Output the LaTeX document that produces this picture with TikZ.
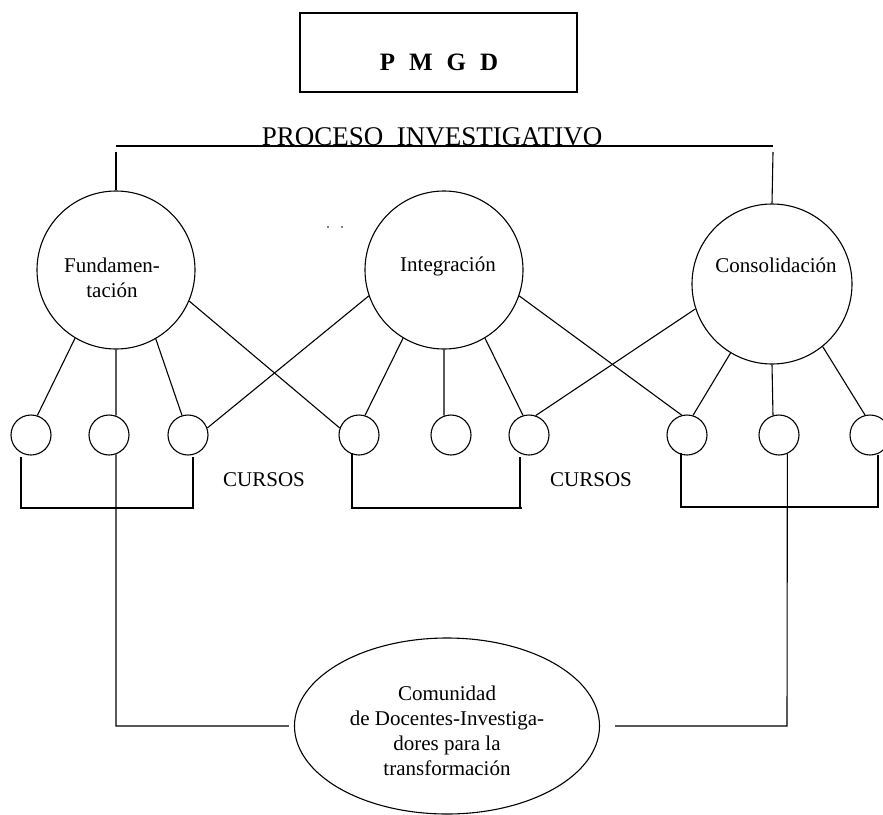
\documentclass[tikz,border=0pt]{standalone}
\usepackage{fontspec}
\setmainfont{Liberation Serif}
\usetikzlibrary{shapes.geometric}
\begin{document}
\begin{tikzpicture}[x=1pt,y=-1pt, line width=1.1pt,
  big/.style={draw, circle, minimum size=158pt, inner sep=0pt},
  small/.style={draw, circle, minimum size=40pt, inner sep=0pt},
  lbl/.style={font=\fontsize{21}{25}\selectfont, align=center, inner sep=0pt}]
\useasboundingbox (0,0) rectangle (883,814);

% title box
\node[draw, minimum width=277pt, minimum height=79pt, inner sep=0pt] (box) at (438.5,52.5) {};
\node[anchor=base, inner sep=0pt, font=\fontsize{25}{29}\selectfont\bfseries] (pmgd) at (439,70) {P\hspace{14pt}M\hspace{14pt}G\hspace{14pt}D};

% process label and bar
\node[anchor=base, inner sep=0pt, font=\fontsize{27}{31}\selectfont] (proc) at (432,145) {PROCESO\ \ INVESTIGATIVO};

% big circles
\node[big] (F) at (116,270) {};
\node[big] (I) at (444,270) {};
\node[big, minimum size=160pt] (C) at (772,284) {};
\node[lbl] (ft) at (112,278) {Fundamen-\\tación};
\node[lbl] (it) at (448,266) {Integración};
\node[lbl] (ct) at (776,265) {Consolidación};

\coordinate (hl) at (116,146);
\coordinate (hr) at (773,146);
\coordinate (vl) at (116,152);
\coordinate (vr) at (773,152);
\draw (hl) -- (hr);
\draw (vl) -- (F.north);
\draw (vr) -- (C.north);

% stray dots
\fill (328,227) circle (0.8pt);
\fill (342,227) circle (0.8pt);

% small circles
\foreach \n/\x in {1/31,2/109,3/188,4/359,5/451,6/529,7/687,8/779,9/870}
  \node[small] (s\n) at (\x,435) {};

% connectors big -> small
\draw (F.239) -- (s1.72);
\draw (F.south) -- (s2.70);
\draw (F.300) -- (s3.107);
\draw (F.337) -- (s4.160);
\draw (I.199) -- (s3.20);
\draw (I.239) -- (s4.73);
\draw (I.south) -- (s5.110);
\draw (I.301) -- (s6.107);
\draw (I.341) -- (s7.105);
\draw (C.198) -- (s6.71);
\draw (C.239) -- (s7.73);
\draw (C.south) -- (s8.107);
\draw (C.309) -- (s9.104);

% brackets
\coordinate (g1a) at (21,457);
\coordinate (g1b) at (21,508);
\coordinate (g1c) at (194,508);
\coordinate (g1d) at (193,457);
\draw (g1a) -- (g1b) -- (g1c);
\draw (g1d) -- (193,508);
\coordinate (g2a) at (352,453);
\coordinate (g2b) at (352,508);
\coordinate (g2c) at (522,508);
\coordinate (g2d) at (520,457);
\draw (g2a) -- (g2b) -- (g2c);
\draw (g2d) -- (520,508);
\coordinate (g3a) at (681,453);
\coordinate (g3b) at (681,507);
\coordinate (g3c) at (878,507);
\coordinate (g3d) at (878,455);
\draw (g3a) -- (g3b) -- (g3c) -- (g3d);

% CURSOS labels
\node[lbl] (c1) at (264,480) {CURSOS};
\node[lbl] (c2) at (591,480) {CURSOS};

% community ellipse
\node[draw, ellipse, minimum width=305pt, minimum height=176pt, inner sep=0pt] (E) at (447,726) {};
\node[lbl] (et) at (447,731) {Comunidad\\de Docentes-Investiga-\\dores para la\\transformación};

\coordinate (lc) at (116,726);
\coordinate (rc) at (787,726);
\draw (s2.290) -- (lc) -- ([xshift=-5pt]E.west);
\draw (s8.294) -- (rc) -- ([xshift=15pt]E.east);
\end{tikzpicture}
\end{document}
